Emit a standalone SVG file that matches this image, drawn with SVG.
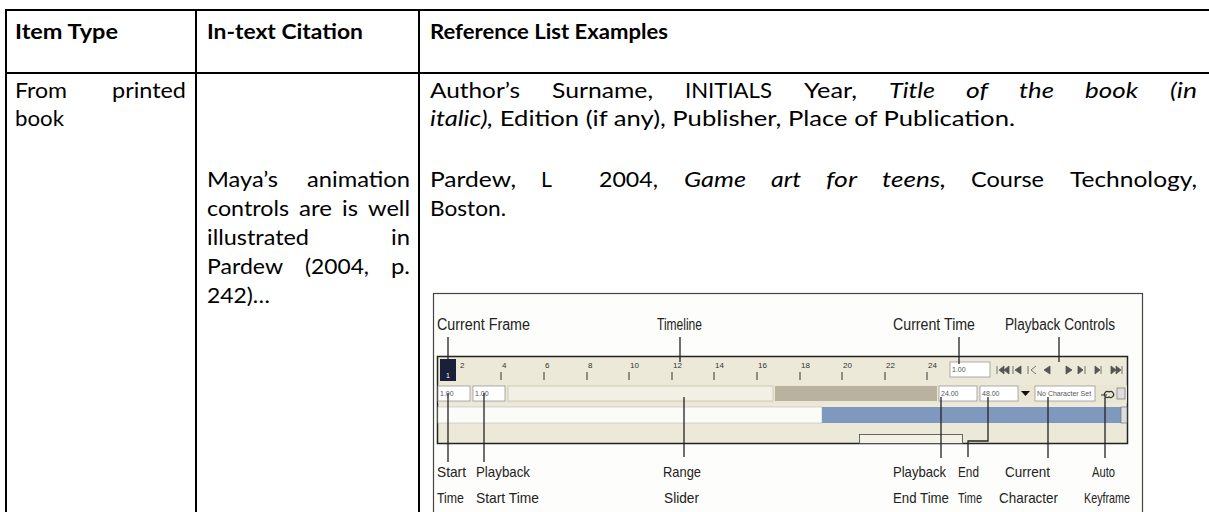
<svg xmlns="http://www.w3.org/2000/svg" width="1209" height="512" viewBox="0 0 1209 512">
<style>
.t{font-family:Lato,"Liberation Sans",sans-serif;font-size:21px;fill:#000}
.b{font-weight:bold}
.i{font-style:italic}
.c{font-family:"Liberation Sans Narrow","Liberation Sans",sans-serif;font-size:15px;fill:#222}
.ct{font-family:"Liberation Sans Narrow","Liberation Sans",sans-serif;font-size:16px;fill:#222}
.rule{stroke:#000;stroke-width:2;fill:none}
.ld{stroke:#222;stroke-width:1.3;fill:none}
.num{font-family:"Liberation Sans Narrow","Liberation Sans",sans-serif;font-size:8px;fill:#333}
.fv{font-family:"Liberation Sans Narrow","Liberation Sans",sans-serif;font-size:7px;fill:#555}
.fld{fill:#fff;stroke:#999;stroke-width:0.8}
.tick{stroke:#333;stroke-width:1}
</style>
<rect width="1209" height="512" fill="#fff"/>
<g id="table">
<line class="rule" x1="5" y1="10" x2="1209" y2="10"/>
<line class="rule" x1="5" y1="73" x2="1209" y2="73"/>
<line class="rule" x1="6" y1="9" x2="6" y2="512"/>
<line class="rule" x1="196" y1="9" x2="196" y2="512"/>
<line class="rule" x1="419" y1="9" x2="419" y2="512"/>
</g>
<g id="header">
<text class="t b" x="15" y="39" textLength="103" lengthAdjust="spacingAndGlyphs">Item Type</text>
<text class="t b" x="207" y="39" textLength="156" lengthAdjust="spacingAndGlyphs">In-text Citation</text>
<text class="t b" x="430" y="39" textLength="238" lengthAdjust="spacingAndGlyphs">Reference List Examples</text>
</g>
<g id="item-type">
<text class="t" x="15" y="98" textLength="52" lengthAdjust="spacingAndGlyphs">From</text>
<text class="t" x="112" y="98" textLength="74" lengthAdjust="spacingAndGlyphs">printed</text>
<text class="t" x="15" y="126" textLength="49" lengthAdjust="spacingAndGlyphs">book</text>
</g>
<g id="citation">
<text class="t" x="207" y="187" textLength="71" lengthAdjust="spacingAndGlyphs">Maya’s</text>
<text class="t" x="307" y="187" textLength="103" lengthAdjust="spacingAndGlyphs">animation</text>
<text class="t" x="207" y="216" textLength="82" lengthAdjust="spacingAndGlyphs">controls</text>
<text class="t" x="299" y="216" textLength="33" lengthAdjust="spacingAndGlyphs">are</text>
<text class="t" x="342" y="216" textLength="16" lengthAdjust="spacingAndGlyphs">is</text>
<text class="t" x="368" y="216" textLength="42" lengthAdjust="spacingAndGlyphs">well</text>
<text class="t" x="207" y="245" textLength="102" lengthAdjust="spacingAndGlyphs">illustrated</text>
<text class="t" x="391" y="245" textLength="19" lengthAdjust="spacingAndGlyphs">in</text>
<text class="t" x="207" y="274" textLength="76" lengthAdjust="spacingAndGlyphs">Pardew</text>
<text class="t" x="305" y="274" textLength="64" lengthAdjust="spacingAndGlyphs">(2004,</text>
<text class="t" x="391" y="274" textLength="19" lengthAdjust="spacingAndGlyphs">p.</text>
<text class="t" x="207" y="303" textLength="63" lengthAdjust="spacingAndGlyphs">242)…</text>
</g>
<g id="reference">
<text class="t" x="430" y="98" textLength="90" lengthAdjust="spacingAndGlyphs">Author’s</text>
<text class="t" x="552" y="98" textLength="101" lengthAdjust="spacingAndGlyphs">Surname,</text>
<text class="t" x="685" y="98" textLength="87" lengthAdjust="spacingAndGlyphs">INITIALS</text>
<text class="t" x="804" y="98" textLength="53" lengthAdjust="spacingAndGlyphs">Year,</text>
<text class="t i" x="889" y="98" textLength="46" lengthAdjust="spacingAndGlyphs">Title</text>
<text class="t i" x="966" y="98" textLength="22" lengthAdjust="spacingAndGlyphs">of</text>
<text class="t i" x="1019" y="98" textLength="35" lengthAdjust="spacingAndGlyphs">the</text>
<text class="t i" x="1085" y="98" textLength="53" lengthAdjust="spacingAndGlyphs">book</text>
<text class="t i" x="1170" y="98" textLength="27" lengthAdjust="spacingAndGlyphs">(in</text>
<text class="t" x="430" y="126" textLength="585" lengthAdjust="spacingAndGlyphs"><tspan class="i">italic),</tspan> Edition (if any), Publisher, Place of Publication.</text>
<text class="t" x="430" y="187" textLength="86" lengthAdjust="spacingAndGlyphs">Pardew,</text>
<text class="t" x="541" y="187" textLength="11" lengthAdjust="spacingAndGlyphs">L</text>
<text class="t" x="599" y="187" textLength="59" lengthAdjust="spacingAndGlyphs">2004,</text>
<text class="t i" x="684" y="187" textLength="62" lengthAdjust="spacingAndGlyphs">Game</text>
<text class="t i" x="771" y="187" textLength="30" lengthAdjust="spacingAndGlyphs">art</text>
<text class="t i" x="826" y="187" textLength="31" lengthAdjust="spacingAndGlyphs">for</text>
<text class="t i" x="882" y="187" textLength="64" lengthAdjust="spacingAndGlyphs">teens,</text>
<text class="t" x="971" y="187" textLength="73" lengthAdjust="spacingAndGlyphs">Course</text>
<text class="t" x="1070" y="187" textLength="127" lengthAdjust="spacingAndGlyphs">Technology,</text>
<text class="t" x="430" y="216" textLength="76" lengthAdjust="spacingAndGlyphs">Boston.</text>
</g>
<g id="screenshot">
<rect x="433.5" y="293.5" width="709" height="230" fill="#fdfdfb" stroke="#444" stroke-width="1.2"/>
<rect x="437.5" y="356.5" width="690" height="87" fill="#ece9d8" stroke="#222" stroke-width="1.5"/>
<rect x="438" y="385" width="689" height="18" fill="#e9e6d4"/>
<rect x="438" y="386" width="32" height="15" class="fld"/>
<text class="fv" x="440" y="396">1.00</text>
<rect x="473" y="386" width="32" height="15" class="fld"/>
<text class="fv" x="475" y="396">1.00</text>
<rect x="508" y="386" width="265" height="15" fill="#f2f0e4" stroke="#c8c4b0" stroke-width="0.8"/>
<rect x="775" y="386" width="162" height="15" fill="#b9b29f"/>
<rect x="939" y="386" width="38" height="15" class="fld"/>
<text class="fv" x="941" y="396">24.00</text>
<rect x="980" y="386" width="38" height="15" class="fld"/>
<text class="fv" x="982" y="396">48.00</text>
<path d="M1021 391 h9 l-4.5 5 z" fill="#111"/>
<rect x="1035" y="386" width="60" height="15" class="fld"/>
<text class="fv" x="1037" y="396">No Character Set</text>
<path d="M1101 395h6M1109 392a3 3 0 1 1 0 5a3 3 0 1 1 0-5" stroke="#333" stroke-width="1.2" fill="none"/>
<rect x="1117" y="388" width="8" height="11" fill="#ddd" stroke="#666" stroke-width="0.6"/>
<rect x="438" y="407" width="384" height="16" fill="#fbfbf8" stroke="#bbb" stroke-width="0.6"/>
<rect x="822" y="407" width="299" height="16" fill="#7f99be"/>
<rect x="1121" y="407" width="6" height="16" fill="#ddd" stroke="#666" stroke-width="0.6"/>
<rect x="859.5" y="434.5" width="103" height="9" fill="#f4f2e6" stroke="#444" stroke-width="0.8"/>
<rect x="440" y="359" width="16" height="22" fill="#1a1f3a"/>
<text x="446" y="378" font-family="Liberation Sans, sans-serif" font-size="7" fill="#fff">1</text>
<g id="ruler">
<text class="num" x="460" y="368">2</text>
<text class="num" x="502" y="368">4</text>
<text class="num" x="545" y="368">6</text>
<text class="num" x="588" y="368">8</text>
<text class="num" x="630" y="368">10</text>
<text class="num" x="673" y="368">12</text>
<text class="num" x="715" y="368">14</text>
<text class="num" x="758" y="368">16</text>
<text class="num" x="801" y="368">18</text>
<text class="num" x="843" y="368">20</text>
<text class="num" x="886" y="368">22</text>
<text class="num" x="928" y="368">24</text>
<path class="tick" d="M501 372v8M544 372v8M587 372v8M629 372v8M672 372v8M714 372v8M757 372v8M800 372v8M842 372v8M885 372v8M927 372v8"/>
</g>
<rect x="950" y="362" width="40" height="15" class="fld"/>
<text class="fv" x="952" y="372">1.00</text>
<g id="buttons" fill="#555" stroke="#555" stroke-width="0.8">
<path d="M997 366v8M999 370l5-4v8zM1004 370l5-4v8z"/>
<path d="M1013 366v8M1015 370l6-4v8z"/>
<path d="M1028 366v8M1036 366l-5 4 5 4" fill="none"/>
<path d="M1050 366v8l-6-4z"/>
<path d="M1066 366v8l6-4z"/>
<path d="M1078 366v8l5-4zM1085 366v8"/>
<path d="M1095 366v8l5-4zM1101 366v8"/>
<path d="M1111 366v8l5-4zM1116 366v8l5-4zM1122 366v8"/>
</g>
</g>
<g id="screenshot-labels">
<text class="ct" x="437" y="330" textLength="93" lengthAdjust="spacingAndGlyphs">Current Frame</text>
<text class="ct" x="657" y="330" textLength="45" lengthAdjust="spacingAndGlyphs">Timeline</text>
<text class="ct" x="893" y="330" textLength="82" lengthAdjust="spacingAndGlyphs">Current Time</text>
<text class="ct" x="1005" y="330" textLength="110" lengthAdjust="spacingAndGlyphs">Playback Controls</text>
<text class="c" x="437" y="477" textLength="29" lengthAdjust="spacingAndGlyphs">Start</text>
<text class="c" x="437" y="503" textLength="27" lengthAdjust="spacingAndGlyphs">Time</text>
<text class="c" x="476" y="477" textLength="54" lengthAdjust="spacingAndGlyphs">Playback</text>
<text class="c" x="476" y="503" textLength="63" lengthAdjust="spacingAndGlyphs">Start Time</text>
<text class="c" x="663" y="477" textLength="38" lengthAdjust="spacingAndGlyphs">Range</text>
<text class="c" x="664" y="503" textLength="35" lengthAdjust="spacingAndGlyphs">Slider</text>
<text class="c" x="893" y="477" textLength="53" lengthAdjust="spacingAndGlyphs">Playback</text>
<text class="c" x="893" y="503" textLength="56" lengthAdjust="spacingAndGlyphs">End Time</text>
<text class="c" x="958" y="477" textLength="21" lengthAdjust="spacingAndGlyphs">End</text>
<text class="c" x="958" y="503" textLength="24" lengthAdjust="spacingAndGlyphs">Time</text>
<text class="c" x="1005" y="477" textLength="45" lengthAdjust="spacingAndGlyphs">Current</text>
<text class="c" x="999" y="503" textLength="59" lengthAdjust="spacingAndGlyphs">Character</text>
<text class="c" x="1092" y="477" textLength="23" lengthAdjust="spacingAndGlyphs">Auto</text>
<text class="c" x="1084" y="503" textLength="46" lengthAdjust="spacingAndGlyphs">Keyframe</text>
</g>
<g id="connectors">
<path class="ld" d="M448 337V359"/>
<path class="ld" d="M680 337V362"/>
<path class="ld" d="M959 337V364"/>
<path class="ld" d="M1059 337V362"/>
<path class="ld" d="M448 393V462"/>
<path class="ld" d="M484 393V462"/>
<path class="ld" d="M684 397V457"/>
<path class="ld" d="M941 397V458"/>
<path class="ld" d="M988 397V441H968V457"/>
<path class="ld" d="M1048 397V458"/>
<path class="ld" d="M1105 397V458"/>
</g>
</svg>
